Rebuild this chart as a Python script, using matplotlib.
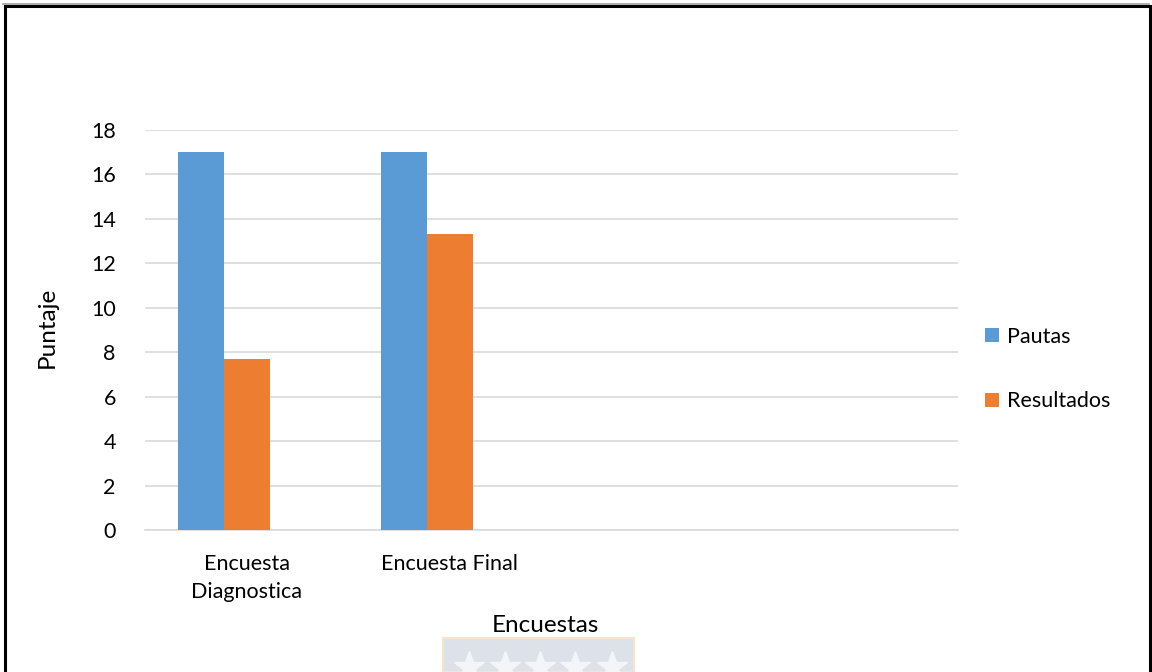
import numpy as np
import matplotlib.pyplot as plt
from matplotlib.patches import Rectangle
from matplotlib.lines import Line2D

plt.rcParams['font.family'] = ['Lato', 'DejaVu Sans']

categorias = ['Encuesta\nDiagnostica', 'Encuesta Final', '', '']
pautas = [17, 17, np.nan, np.nan]
resultados = [7.7, 13.3, np.nan, np.nan]
series = ['Pautas', 'Resultados']
colores = ['#5B9BD5', '#ED7D31']

W, H = 1152, 672
fig = plt.figure(figsize=(W / 100, H / 100), dpi=100)
ax = fig.add_axes([145 / W, 1 - 530 / H, (958 - 145) / W, 400 / H])

x = np.arange(len(categorias))
ancho = 0.226
ax.bar(x - ancho, pautas, ancho, color=colores[0], label=series[0], zorder=3)
ax.bar(x, resultados, ancho, color=colores[1], label=series[1], zorder=3)

ax.set_xlim(-0.5, len(categorias) - 0.5)
ax.set_ylim(0, 18)
ax.set_yticks(np.arange(0, 19, 2))
ax.set_xticks(x)
ax.set_xticklabels(categorias, fontsize=15.5, linespacing=1.45)
ax.tick_params(axis='y', length=0, pad=21, labelsize=15.5)
ax.tick_params(axis='x', length=0, pad=17.5)
ax.grid(axis='y', color='#D9D9D9', linewidth=1.2, zorder=0)
for s in ['top', 'right', 'left']:
    ax.spines[s].set_visible(False)
ax.spines['bottom'].set_color('#D9D9D9')
ax.spines['bottom'].set_linewidth(1.2)

fig.text(545 / W, 1 - 625 / H, 'Encuestas', ha='center', va='center', fontsize=17.5)
fig.text(47 / W, 1 - 327 / H, 'Puntaje', ha='center', va='center', rotation=90, fontsize=17.5)

fig.legend(loc='center left', bbox_to_anchor=(966 / W, 1 - 369 / H), frameon=False,
           fontsize=15.5, handlelength=0.62, handleheight=0.62, handletextpad=0.4,
           labelspacing=2.07)

# marco de la figura
fig.patches.append(Rectangle((4.5 / W, -0.01), 1145 / W, 1 - 6 / H + 0.01, transform=fig.transFigure,
                             fill=False, edgecolor='black', linewidth=2.2))
fig.add_artist(Line2D([3 / W, 1149 / W], [1 - 3.5 / H, 1 - 3.5 / H], color='#A0A0A0', linewidth=1.2))

# sello de agua inferior
fig.patches.append(Rectangle((443 / W, 0), 191 / W, 34 / H, transform=fig.transFigure,
                             facecolor='#DCE1EA', edgecolor='#F8E3CC', linewidth=1.5))
for sx in [469, 505, 540, 575, 612]:
    fig.add_artist(Line2D([sx / W], [1 - 667 / H], marker='*', markersize=23, color='#F4F5F8',
                          linestyle='none'))

fig.savefig('out.png', dpi=100)
